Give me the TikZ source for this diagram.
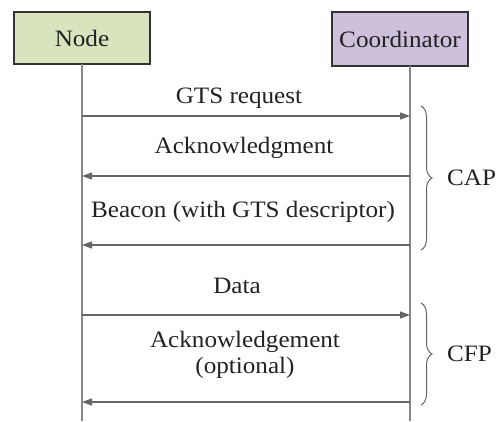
\documentclass[tikz,border=0pt]{standalone}
\usepackage{fontspec}
\setmainfont{Liberation Serif}[FakeStretch=1.07]
\usetikzlibrary{arrows.meta,decorations.pathreplacing}
\definecolor{nodegreen}{HTML}{D7E4BD}
\definecolor{coordpurple}{HTML}{CCC0DA}
\definecolor{linegray}{HTML}{666666}
\definecolor{lifegray}{HTML}{888888}
\definecolor{txtgray}{HTML}{222222}
\begin{document}
\begin{tikzpicture}[x=1pt,y=-1pt,
  font=\fontsize{23.5}{26}\selectfont,
  actor/.style={draw=black!80, line width=1.3pt, inner sep=0pt, text=txtgray},
  lifeline/.style={draw=lifegray, line width=1.5pt},
  msg/.style={draw=linegray, line width=1.2pt, -{Triangle[length=10pt,width=7pt]}},
  lbl/.style={text=txtgray, inner sep=0pt, align=center},
  bracestyle/.style={draw=linegray, line width=1pt, decorate, decoration={brace, amplitude=11pt, aspect=0.5}}]
\useasboundingbox (0,0) rectangle (500,421);
% actors
\node[actor, fill=nodegreen, minimum width=136pt, minimum height=52pt] (nd) at (82,38) {Node};
\node[actor, fill=coordpurple, minimum width=136pt, minimum height=54pt] (co) at (400,39) {Coordinator};
% lifeline coordinates
\coordinate (ntop) at (82,64);
\coordinate (nbot) at (82,421);
\coordinate (ctop) at (410,66);
\coordinate (cbot) at (410,421);
\draw[lifeline] (ntop) -- (nbot);
\draw[lifeline] (ctop) -- (cbot);
% message coordinates
\coordinate (n1) at (82,116); \coordinate (c1) at (410,116);
\coordinate (n2) at (82,176); \coordinate (c2) at (410,176);
\coordinate (n3) at (82,245); \coordinate (c3) at (410,245);
\coordinate (n4) at (82,315); \coordinate (c4) at (410,315);
\coordinate (n5) at (82,402); \coordinate (c5) at (410,402);
\draw[msg] (n1) -- (c1);
\draw[msg] (c2) -- (n2);
\draw[msg] (c3) -- (n3);
\draw[msg] (n4) -- (c4);
\draw[msg] (c5) -- (n5);
% labels
\node[lbl] (l1) at (239,98) {GTS request};
\node[lbl] (l2) at (244,148) {Acknowledgment};
\node[lbl] (l3) at (243,212) {Beacon (with GTS descriptor)};
\node[lbl] (l4) at (237,286) {Data};
\node[lbl] (l5) at (245,355) {Acknowledgement\\(optional)};
% braces
\coordinate (b1t) at (421,106); \coordinate (b1b) at (421,250);
\coordinate (b2t) at (421,303); \coordinate (b2b) at (421,405);
\draw[bracestyle] (b1t) -- (b1b);
\draw[bracestyle] (b2t) -- (b2b);
\node[lbl, anchor=west] (cap) at (447,178) {CAP};
\node[lbl, anchor=west] (cfp) at (447,354) {CFP};
\end{tikzpicture}
\end{document}
